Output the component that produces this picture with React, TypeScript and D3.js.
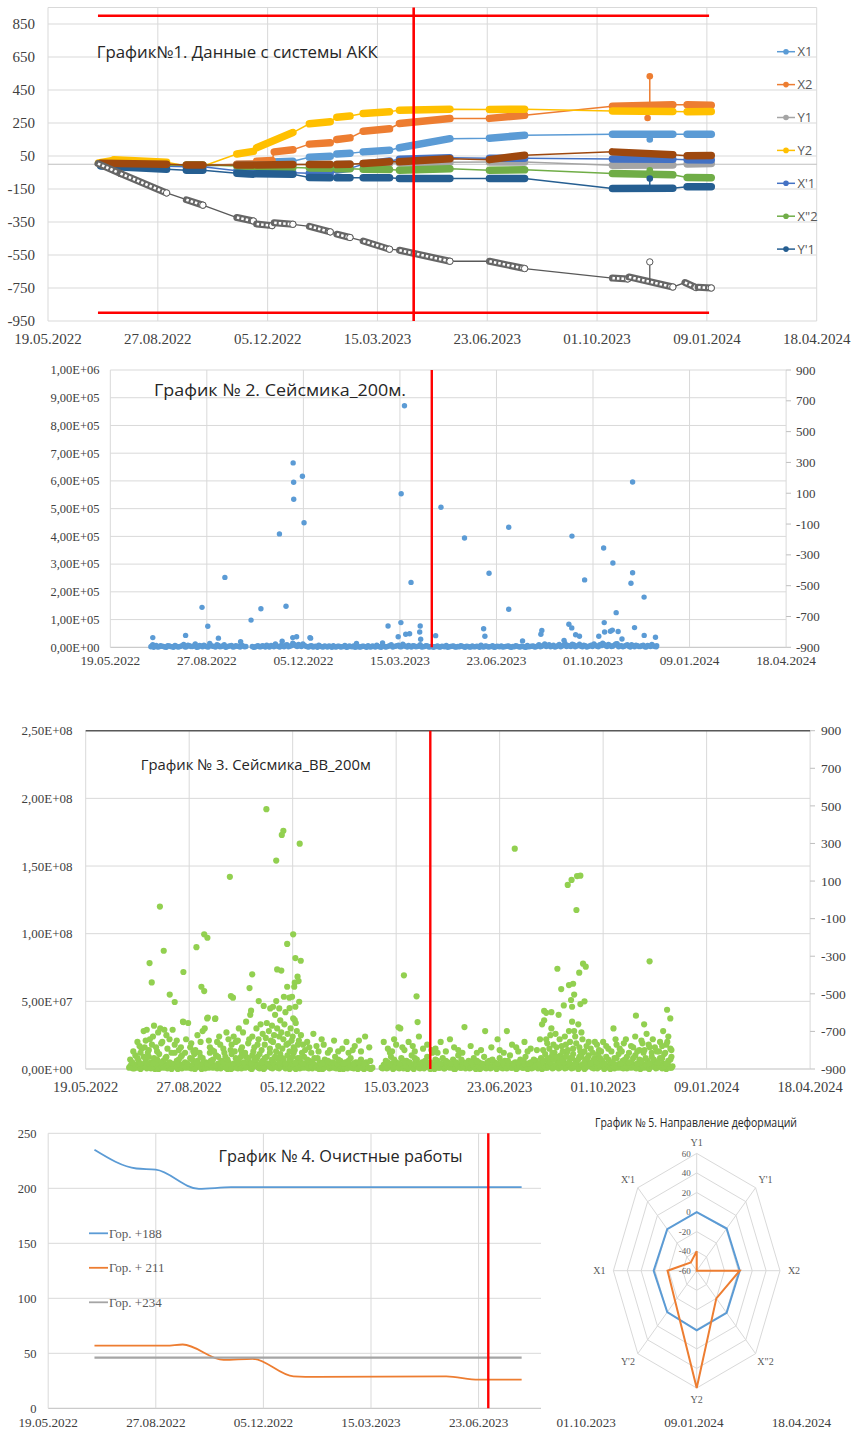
import React from 'react';
import * as d3 from 'd3';

const SERIF = "'Liberation Serif','Times New Roman',serif";
const SANS = "'Open Sans','Noto Sans',sans-serif";
const GRID = '#D9D9D9';
const AXIS = '#BFBFBF';
const TXT = '#404040';
const LEG = '#595959';
const RED = '#FF0000';

const BASE_DATE = new Date(2022, 4, 19);
const dayTicks = [0, 100, 200, 300, 400, 500, 600, 700];
const fmtDate = d3.timeFormat('%d.%m.%Y');
const dayLabel = (d: number) => fmtDate(d3.timeDay.offset(BASE_DATE, d));
const redDay = 333;
const redDay4 = 409;

// ---------- Chart 1 ----------
type Run = [number, number, number, number];
const c1GridVals = [-950, -750, -550, -350, -150, 50, 250, 450, 650, 850, 950];
const c1TickLabels = [850, 650, 450, 250, 50, -150, -350, -550, -750, -950];
const c1Limits = [900, -900];
const c1LimitSpan = [45.5, 602];

const x1Runs: Run[] = [[48,108,0,-8],[126,141,-10,-10],[172,187,-2,0],[190,223,10,18],[238,257,42,48],[263,275,62,66],[287,311,75,85],[320,366,100,155],[402,434,158,176],[514,569,182,182],[582,604,182,182]];
const x2Runs: Run[] = [[48,108,5,-2],[126,141,-8,-8],[172,187,0,2],[190,204,18,22],[206,223,75,88],[238,257,122,130],[263,275,150,160],[287,311,200,215],[320,366,247,277],[402,434,278,297],[514,569,352,360],[582,604,360,358]];
const y1Runs: Run[] = [[48,108,0,-4],[126,141,-8,-8],[172,187,-4,-4],[190,223,-4,-2],[238,257,-2,0],[263,275,0,2],[287,311,4,6],[320,366,8,12],[402,434,14,14],[514,569,-6,-4],[582,604,2,4]];
const y2Runs: Run[] = [[46,58,8,22],[60,108,28,12],[126,141,-10,-12],[172,187,62,78],[190,223,100,192],[238,257,245,258],[263,275,285,292],[287,311,308,318],[320,366,328,334],[402,434,332,334],[514,569,322,320],[582,604,318,320]];
const xp1Runs: Run[] = [[48,108,-2,-12],[126,141,-15,-15],[172,187,-40,-45],[190,223,-48,-52],[238,257,-55,-58],[263,275,-35,-25],[287,311,0,20],[320,366,30,40],[402,434,36,36],[514,569,32,30],[582,604,28,26]];
const xpp2Runs: Run[] = [[48,108,2,-4],[126,141,-4,-4],[172,187,-10,-12],[190,223,-14,-20],[238,257,-22,-25],[263,275,-28,-28],[287,311,-30,-32],[320,366,-36,-28],[402,434,-36,-34],[514,569,-56,-64],[582,604,-80,-82]];
const yp1Runs: Run[] = [[48,108,-10,-30],[126,141,-36,-36],[172,187,-55,-60],[190,223,-58,-60],[238,257,-80,-82],[263,275,-82,-82],[287,311,-82,-82],[320,366,-86,-87],[402,434,-87,-87],[514,569,-147,-145],[582,604,-137,-137]];
const brownRuns: Run[] = [[48,108,6,0],[126,141,-4,-4],[172,187,-4,-4],[190,223,-4,-2],[238,257,-2,-2],[263,275,-2,0],[287,311,5,15],[320,366,15,34],[402,434,28,55],[514,569,75,58],[582,604,52,53]];
const descRuns: Run[] = [[45.5,66,4,-56],[66,108,-56,-174],[126,141,-215,-248],[172,187,-323,-344],[190,204,-362,-372],[206,223,-355,-364],[238,257,-376,-410],[263,275,-424,-444],[287,311,-465,-515],[320,366,-521,-588],[402,434,-588,-632],[514,528,-690,-695],[529,569,-683,-744],[580,590,-717,-747],[592,604,-745,-750]];

const c1Series = [
  { name: 'X1', color: '#5B9BD5', runs: x1Runs, spikes: [[548, 150]] },
  { name: 'X2', color: '#ED7D31', runs: x2Runs, spikes: [[548, 533], [546, 280]] },
  { name: 'Y1', color: '#A5A5A5', runs: y1Runs, spikes: [] },
  { name: 'Y2', color: '#FFC000', runs: y2Runs, spikes: [] },
  { name: "X'1", color: '#4472C4', runs: xp1Runs, spikes: [] },
  { name: 'X"2', color: '#70AD47', runs: xpp2Runs, spikes: [[548, -36]] },
  { name: "Y'1", color: '#255E91', runs: yp1Runs, spikes: [[548, -87]] },
  { name: 'B', color: '#9E480E', runs: brownRuns, spikes: [] },
];

// ---------- Chart 2 ---------- (values in thousands)
const c2LeftTicks = [0, 100, 200, 300, 400, 500, 600, 700, 800, 900, 1000];
const secTicks = [900, 700, 500, 300, 100, -100, -300, -500, -700, -900];
const g2Peaks = [
  [304.7,871],[189.4,665],[189.9,595],[190,534],[199,617],[200.7,449],[175.2,409],[301.3,554],[342.5,505],[366.9,394],[412.7,433],[478.2,401],[511,358],[520.6,304],[541,596],[541,269],[539.3,231],[552.9,181],[491.3,243],[524,125],[311.5,234],[392.3,267],[412.7,137],[118.7,252],[95,144],[101,76],[156,139],[145.8,98],[182,148],[301,89],[287.7,77],[321,77],[320.5,55],[475,83],[511.6,89],[386.7,67],[447,61],[520,62],[543,71],[564.7,36],[553,43],[78,43],[44,35],[112,33],[337,42],[207.5,33],[189,35],[193,38],[206.8,35],[298.2,38],[306,47],[310,49],[321.5,29],[478,70],[482,45],[486,40],[506,40],[512,55],[518,58],[526,57],[530,30],[470,25],[446,47],[427,23],[388,40],[135,20],[178,22],[255,14],[282,16]
];
const g2Base = [
  [42,2],[44,9],[46,4],[49,1],[52,6],[55,3],[58,0],[61,5],[64,2],[67,7],[70,1],[73,4],[76,10],[79,2],[82,6],[85,3],[88,12],[91,1],[94,5],[97,8],[100,2],[103,14],[106,4],[109,1],[112,7],[115,3],[118,9],[121,2],[124,5],[127,1],[130,6],[133,3],[136,8],[139,2],
  [147,3],[150,1],[153,6],[156,2],[159,4],[162,8],[165,1],[168,5],[171,12],[174,3],[177,7],[180,2],[183,9],[186,4],[189,15],[192,6],[195,10],[198,3],[201,7],[204,2],[207,5],[210,1],[213,4],[216,8],[219,2],[222,5],[225,1],[228,3],[231,6],[234,1],[237,4],[240,2],[243,7],[246,1],[249,3],[252,5],[255,2],[258,1],[261,4],[264,2],[267,6],[270,1],[273,3],[276,8],[279,2],[282,5],[285,1],[288,4],[291,9],[294,3],[297,6],[300,2],[303,11],[306,4],[309,7],[312,1],[315,5],[318,3],[321,9],[324,2],[327,6],[330,1],[333,4],[336,2],[339,5],[342,1],[345,3],[348,7],[351,2],[354,4],[357,1],[360,3],[363,6],[366,2],[369,4],[372,1],[375,5],[378,2],[381,3],[384,8],[387,1],[390,4],[393,2],[396,6],[399,1],[402,3],[405,5],[408,2],[411,4],[414,1],[417,3],[420,6],[423,2],[426,4],[429,1],[432,7],[435,3],[438,5],[441,2],[444,9],[447,4],[450,12],[453,6],[456,2],[459,8],[462,3],[465,10],[468,5],[471,14],[474,7],[477,3],[480,9],[483,5],[486,11],[489,2],[492,6],[495,3],[498,8],[501,12],[504,4],[507,9],[510,15],[513,6],[516,10],[519,3],[522,8],[525,13],[528,5],[531,2],[534,7],[537,4],[540,9],[543,2],[546,6],[549,3],[552,8],[555,1],[558,5],[561,10],[564,3],[566,6]
];
const g2Base2 = [
  [43,5],[45,0],[47.5,7],[50.5,2],[53.5,4],[56.5,1],[59.5,6],[62.5,3],[65.5,0],[68.5,4],[71.5,2],[74.5,6],[77.5,1],[80.5,8],[83.5,3],[86.5,5],[89.5,0],[92.5,7],[95.5,2],[98.5,4],[101.5,1],[104.5,6],[107.5,3],[110.5,9],[113.5,2],[116.5,5],[119.5,0],[122.5,4],[125.5,7],[128.5,2],[131.5,4],[134.5,1],[137.5,5],[140.5,3],
  [148.5,0],[151.5,4],[154.5,2],[157.5,6],[160.5,1],[163.5,3],[166.5,7],[169.5,2],[172.5,5],[175.5,1],[178.5,4],[181.5,8],[184.5,2],[187.5,6],[190.5,10],[193.5,3],[196.5,5],[199.5,12],[202.5,4],[205.5,1],[208.5,6],[211.5,3],[214.5,0],[217.5,4],[220.5,1],[223.5,3],[226.5,5],[229.5,0],[232.5,2],[235.5,4],[238.5,1],[241.5,3],[244.5,0],[247.5,5],[250.5,2],[253.5,0],[256.5,3],[259.5,1],[262.5,4],[265.5,0],[268.5,2],[271.5,5],[274.5,1],[277.5,3],[280.5,0],[283.5,4],[286.5,2],[289.5,6],[292.5,1],[295.5,4],[298.5,8],[301.5,2],[304.5,5],[307.5,1],[310.5,3],[313.5,6],[316.5,2],[319.5,4],[322.5,1],[325.5,3],[328.5,5],[331.5,2],[334.5,0],[337.5,3],[340.5,1],[343.5,4],[346.5,2],[349.5,0],[352.5,3],[355.5,5],[358.5,1],[361.5,2],[364.5,4],[367.5,0],[370.5,3],[373.5,1],[376.5,2],[379.5,4],[382.5,0],[385.5,2],[388.5,5],[391.5,1],[394.5,3],[397.5,0],[400.5,4],[403.5,2],[406.5,1],[409.5,3],[412.5,5],[415.5,0],[418.5,2],[421.5,4],[424.5,1],[427.5,3],[430.5,0],[433.5,2],[436.5,4],[439.5,1],[442.5,5],[445.5,2],[448.5,7],[451.5,3],[454.5,9],[457.5,4],[460.5,1],[463.5,6],[466.5,2],[469.5,8],[472.5,3],[475.5,5],[478.5,11],[481.5,2],[484.5,6],[487.5,4],[490.5,8],[493.5,1],[496.5,5],[499.5,3],[502.5,7],[505.5,2],[508.5,6],[511.5,10],[514.5,3],[517.5,7],[520.5,4],[523.5,12],[526.5,2],[529.5,6],[532.5,4],[535.5,9],[538.5,1],[541.5,5],[544.5,8],[547.5,3],[550.5,6],[553.5,2],[556.5,7],[559.5,3],[562.5,5],[565.5,2]
];

// ---------- Chart 3 ---------- (values in millions)
const c3LeftTicks = [0, 50, 100, 150, 200, 250];
const g3Low = [
  [42,1],[44,3],[47,0.5],[49,2],[52,4],[54,1],[57,2.5],[59,0.5],[62,3.5],[64,1.5],[67,0],[69,3],[72,1],[74,4],[77,2],[79,0.5],[82,3],[84,1.5],[87,4],[89,0],[92,2],[94,3.5],[97,1],[99,2.5],[102,0.5],[104,4],[107,1.5],[109,3],[112,0],[114,2],[117,3.5],[119,1],[122,4],[124,2],[127,0.5],[129,3],[132,1.5],[134,4],[137,0],[139,2.5],[142,1],[144,3.5],[147,0.5],[149,2],[152,4],[154,1],[157,3],[159,0.5],[162,2.5],[164,4],[167,1],[169,3],[172,0],[174,2],[177,3.5],[179,1],[182,4],[184,2],[187,0.5],[189,3],[192,1.5],[194,4],[197,0],[199,2.5],[202,1],[204,3.5],[207,0.5],[209,2],[212,4],[214,1],[217,3],[219,0.5],[222,2.5],[224,1],[227,3.5],[229,0],[232,2],[234,4],[237,1],[239,2.5],[242,0.5],[244,3],[247,1.5],[249,0],[252,2],[254,3.5],[257,1],[259,0.5],[262,2.5],[264,1],[267,3],[269,0],[272,1.5],[274,0.5],[277,1],
  [286,1],[288,3],[291,0.5],[293,2],[296,4],[298,1],[301,2.5],[303,0.5],[306,3.5],[308,1.5],[311,0],[313,3],[316,1],[318,4],[321,2],[323,0.5],[326,3],[328,1.5],[331,4],[333,0],[336,2],[338,3.5],[341,1],[343,2.5],[346,0.5],[348,4],[351,1.5],[353,3],[356,0],[358,2],[361,3.5],[363,1],[366,4],[368,2],[371,0.5],[373,3],[376,1.5],[378,4],[381,0],[383,2.5],[386,1],[388,3.5],[391,0.5],[393,2],[396,4],[398,1],[401,3],[403,0.5],[406,2.5],[408,4],[411,1],[413,3],[416,0],[418,2],[421,3.5],[423,1],[426,4],[428,2],[431,0.5],[433,3],[436,1.5],[438,4],[441,0],[443,2.5],[446,1],[448,3.5],[451,0.5],[453,2],[456,4],[458,1],[461,3],[463,0.5],[466,2.5],[468,4],[471,1],[473,3],[476,0],[478,2],[481,3.5],[483,1],[486,4],[488,2],[491,0.5],[493,3],[496,1.5],[498,4],[501,0],[503,2.5],[506,1],[508,3.5],[511,0.5],[513,2],[516,4],[518,1],[521,3],[523,0.5],[526,2.5],[528,4],[531,1],[533,3],[536,0],[538,2],[541,3.5],[543,1],[546,4],[548,2],[551,0.5],[553,3],[556,1.5],[558,4],[561,0],[563,2.5],[566,1]
];
const g3Low2 = [
  [43,2],[45.5,0.5],[48,3],[50.5,1],[53,0],[55.5,2.5],[58,1.5],[60.5,4],[63,0.5],[65.5,2],[68,3.5],[70.5,0],[73,2],[75.5,1],[78,3.5],[80.5,2],[83,0],[85.5,3],[88,1.5],[90.5,3.5],[93,0.5],[95.5,2],[98,4],[100.5,1],[103,2.5],[105.5,0],[108,3],[110.5,1.5],[113,4],[115.5,0.5],[118,2],[120.5,3],[123,1],[125.5,2.5],[128,4],[130.5,0.5],[133,2],[135.5,1],[138,3.5],[140.5,0],[143,2],[145.5,1],[148,3.5],[150.5,0.5],[153,2.5],[155.5,1.5],[158,4],[160.5,0],[163,2],[165.5,3],[168,0.5],[170.5,2.5],[173,1],[175.5,4],[178,2],[180.5,0.5],[183,3],[185.5,1],[188,2],[190.5,4],[193,0.5],[195.5,2.5],[198,1],[200.5,3.5],[203,0],[205.5,2],[208,3],[210.5,1],[213,2.5],[215.5,0.5],[218,2],[220.5,3.5],[223,1],[225.5,0],[228,2.5],[230.5,1],[233,3],[235.5,0.5],[238,2],[240.5,1],[243,3.5],[245.5,0],[248,2],[250.5,1],[253,0.5],[255.5,2.5],[258,1],[260.5,3],[263,0],[265.5,1.5],[268,0.5],[270.5,2],[273,1],[275.5,0],
  [287,0.5],[289.5,2],[292,1],[294.5,3],[297,0],[299.5,2],[302,1],[304.5,3.5],[307,0.5],[309.5,2],[312,1],[314.5,3],[317,0],[319.5,2.5],[322,1],[324.5,4],[327,0.5],[329.5,2],[332,3],[334.5,1],[337,0],[339.5,2.5],[342,1],[344.5,3],[347,0.5],[349.5,2],[352,1],[354.5,3.5],[357,0],[359.5,2],[362,1],[364.5,3],[367,0.5],[369.5,2],[372,1],[374.5,2.5],[377,0],[379.5,2],[382,1],[384.5,3],[387,0.5],[389.5,2],[392,1],[394.5,3],[397,0],[399.5,2],[402,1],[404.5,3],[407,0.5],[409.5,2],[412,1],[414.5,3],[417,0.5],[419.5,2],[422,1],[424.5,3],[427,0],[429.5,2],[432,1],[434.5,3],[437,0.5],[439.5,2],[442,3.5],[444.5,1],[447,2.5],[449.5,4],[452,1],[454.5,3],[457,0.5],[459.5,2],[462,4],[464.5,1],[467,3],[469.5,0.5],[472,2.5],[474.5,4],[477,1],[479.5,3],[482,0],[484.5,2],[487,3.5],[489.5,1],[492,2.5],[494.5,0.5],[497,2],[499.5,3.5],[502,1],[504.5,2.5],[507,0],[509.5,2],[512,3.5],[514.5,1],[517,2.5],[519.5,0.5],[522,2],[524.5,4],[527,1],[529.5,3],[532,0.5],[534.5,2],[537,3.5],[539.5,1],[542,2.5],[544.5,0],[547,2],[549.5,3],[552,1],[554.5,2.5],[557,0.5],[559.5,2],[562,3.5],[564.5,1],[567,2]
];
const g3Mid = [
  [43,7],[48,10],[51,6],[56,9],[60,12],[63,5],[66,8],[71,11],[75,6],[78,9],[81,5],[86,12],[90,7],[93,10],[96,5],[101,8],[105,11],[108,6],[111,9],[116,5],[120,12],[123,7],[126,10],[131,6],[135,9],[138,5],[141,11],[145,8],[148,6],[151,12],[155,9],[158,5],[161,10],[165,7],[168,11],[171,6],[175,9],[178,12],[181,5],[185,8],[188,11],[191,7],[195,10],[198,6],[201,12],[205,8],[208,5],[211,9],[216,6],[221,8],[226,5],[231,7],[236,5],[241,9],[246,6],[251,5],[256,8],[261,5],[266,7],[271,5],[290,6],[295,9],[300,5],[305,8],[310,6],[315,10],[320,7],[325,5],[330,9],[335,12],[340,6],[345,8],[350,5],[355,7],[360,10],[365,5],[370,6],[375,8],[380,5],[385,9],[390,6],[395,5],[400,8],[405,6],[410,10],[415,5],[420,7],[425,9],[430,5],[435,6],[440,8],[444,11],[447,6],[450,9],[453,12],[456,7],[459,10],[462,5],[465,12],[468,8],[471,11],[474,6],[477,9],[480,12],[483,7],[486,10],[489,5],[492,8],[495,11],[499,6],[503,9],[507,5],[511,8],[515,11],[519,6],[523,9],[527,5],[531,10],[535,7],[539,12],[543,6],[547,9],[551,5],[555,8],[559,11],[563,6],[566,9]
];
const g3Mid2 = [
  [45,5],[50,8],[53,4],[58,6],[61,9],[65,4],[69,7],[73,5],[77,8],[83,4],[88,6],[92,9],[98,4],[103,7],[107,5],[113,8],[118,4],[121,6],[128,9],[133,5],[137,7],[143,4],[146,6],[150,9],[153,5],[157,8],[160,4],[163,7],[166,9],[170,5],[173,8],[176,4],[180,7],[183,9],[187,5],[190,8],[193,4],[197,7],[200,9],[203,5],[207,8],[210,4],[214,7],[219,5],[224,8],[229,4],[234,6],[239,5],[244,7],[249,4],[254,6],[259,4],[264,5],[269,4],[275,6],[292,5],[298,7],[303,4],[308,6],[313,5],[318,8],[323,4],[328,6],[333,5],[338,7],[343,4],[348,6],[353,4],[358,5],[363,7],[368,4],[373,5],[378,6],[383,4],[388,5],[393,7],[398,4],[403,5],[408,6],[413,4],[418,5],[423,6],[428,4],[433,7],[438,4],[442,6],[446,8],[449,5],[452,7],[455,9],[458,5],[461,7],[464,9],[467,5],[470,8],[473,4],[476,7],[479,9],[482,5],[485,8],[488,4],[491,7],[494,5],[497,8],[501,4],[505,7],[509,5],[513,8],[517,4],[521,7],[525,5],[529,8],[533,4],[537,6],[541,8],[545,4],[549,7],[553,5],[557,8],[561,4],[565,7]
];
const g3Upper = [
  [52,17],[54,15],[56,28],[58,21],[59,29],[61,14],[62,22],[64,18],[66,32],[68,16],[70,27],[72,30],[74,20],[76,29],[79,15],[81,22],[84,29],[86,18],[90,14],[94,35],[97,22],[99,34],[101,16],[104,13],[108,25],[111,20],[113,28],[115,30],[118,38],[120,16],[122,14],[125,37],[127,20],[130,18],[133,15],[136,27],[138,22],
  [141,18],[143,24],[145,20],[148,30],[150,14],[152,27],[155,35],[157,19],[159,40],[161,24],[163,16],[165,30],[167,22],[169,33],[171,26],[173,18],[175,34],[177,28],[179,21],[180,32],[182,25],[183,40],[185,30],[186,17],[188,36],[189,27],[191,22],[192,33],[193,42],[195,26],[196,19],[197,45],[198,30],[200,24],[201,16],[203,34],[204,28],[206,21],[208,25],[210,18],[212,14],
  [216,16],[220,26],[225,13],[230,18],[236,14],[240,21],[248,15],[254,12],[260,17],[266,13],[270,24],[274,16],
  [288,20],[292,15],[296,13],[300,18],[304,30],[308,14],[312,20],[316,17],[322,24],[326,15],[330,18],
  [338,15],[343,20],[348,13],[352,22],[360,14],[366,31],[372,17],[378,12],[386,28],[392,16],[400,14],[407,28],[412,18],[418,13],[424,20],[430,15],[436,14],
  [441,33],[443,36],[445,22],[448,15],[450,30],[452,18],[454,26],[457,40],[460,17],[463,24],[466,14],[468,20],[470,35],[472,28],[474,19],[476,33],[478,13],[480,22],[484,17],[488,15],[492,20],[496,14],
  [500,20],[505,15],[510,30],[513,18],[518,13],[522,22],[527,17],[531,24],[535,14],[538,19],[542,26],[545,16],[548,22],[552,13],[555,20],[558,28],[561,18],[563,24],[565,15]
];
const g3Upper2 = [
  [46,13],[50,20],[53,12],[57,16],[65,24],[69,13],[73,19],[78,25],[83,12],[88,21],[92,16],[96,12],[102,19],[106,14],[110,12],[119,21],[124,13],[129,24],[134,12],[140,14],[144,13],[147,21],[151,16],[154,12],[158,22],[162,13],[166,18],[170,14],[174,23],[178,15],[181,20],[184,13],[187,24],[190,15],[194,18],[197,13],[199,21],[202,14],[205,18],[209,12],[214,20],[218,12],[223,17],[228,22],[234,12],[244,13],[252,20],[258,14],[264,21],[294,12],[298,22],[306,16],[318,13],[334,14],[340,12],[356,16],[364,12],[382,14],[398,22],[404,12],[416,16],[427,13],[439,22],[442,14],[446,19],[449,25],[451,12],[455,16],[458,22],[461,13],[464,18],[467,28],[471,15],[473,24],[477,16],[479,27],[482,13],[486,20],[490,12],[494,18],[498,13],[503,17],[508,13],[512,22],[516,15],[520,19],[525,12],[529,16],[533,13],[537,21],[540,14],[544,18],[547,12],[550,16],[554,13],[557,17],[560,12],[562,20],[566,14]
];
const g3High = [
  [174.6,192],[191,176],[189.5,173],[206.8,166.5],[184.1,154],[139.3,142],[71.7,120],[114.5,99.5],[117.6,97],[200.5,99.5],[107,90],[75.4,87.4],[194.7,92.4],[61.7,78.3],[202.6,82],[207.8,80],[63.8,64],[81.2,55],[86,49.5],[94.4,71.7],[111.8,60.8],[114.5,57.6],[160.9,70],[158.3,59.8],[185,73.6],[189,72.7],[140.3,53.9],[142.3,52.7],[167.2,50.2],[414.6,162.8],[465.8,136],[469.5,139.7],[474.8,142.6],[478,142.9],[474.2,117.5],[307.5,69.2],[319.7,53.7],[544.9,79.6],[455.8,74.1],[480.6,77.8],[483.2,75.6],[476.9,71.2],[459.5,59.1],[471,63],[467,62],[472,55],[469,51],[462,47],[470,46],[478,48],[482,50],[443,42.9],[445,41.5],[450,42],[561.8,43.8],[564.9,37.4],[320.7,34.7],[302.3,30.8],[531.7,39.4],[539.6,33],[184.1,50.2],[172,46.6],[181,46],[187,44.8],[191.5,53.4],[196.8,52.7],[194.7,60.8],[199.4,53.4],[201.5,60.8],[202,63.8],[205.7,65],[204.7,68.2],[202.6,46],[206.3,49.7],[200.5,37.4],[202,36.2],[178.3,44.8],[159.8,43.1],[94.4,34.7],[117.4,37.4],[125.3,37.4]
];

// ---------- Chart 4 ----------
const c4Ticks = [0, 50, 100, 150, 200, 250];
const hor188 = [[43,235],[82,218],[100,217],[140,199.5],[170,201],[440,201]];
const hor211 = [[43,57],[110,57],[125,58],[163,44],[190,45],[228,29],[250,28.5],[370,29],[400,26],[440,26]];
const hor234 = [[43,46],[440,46]];
const c4Series = [
  { name: 'Гор. +188', color: '#5B9BD5', data: hor188 },
  { name: 'Гор. + 211', color: '#ED7D31', data: hor211 },
  { name: 'Гор. +234', color: '#A5A5A5', data: hor234 },
];

// ---------- Chart 5 ----------
const rAxes = ['Y1', "Y'1", 'X2', 'X"2', 'Y2', "Y'2", 'X1', "X'1"];
const rBlue = [0, 1, 2, 1, 1, 0, 2, 0];
const rOrange = [-40, -60, 2, -20, 60, -16, -18, -48];
const rTicks = [-60, -40, -20, 0, 20, 40, 60];

const sci = (v: number) => {
  if (v === 0) return '0,00E+00';
  const e = Math.floor(Math.log10(v) + 1e-9);
  const m = v / Math.pow(10, e);
  return m.toFixed(2).replace('.', ',') + 'E+' + String(e).padStart(2, '0');
};

function runValueAt(runs: Run[], day: number) {
  for (const r of runs) {
    if (day >= r[0] && day <= r[1]) return r[2] + ((r[3] - r[2]) * (day - r[0])) / Math.max(1e-6, r[1] - r[0]);
  }
  return runs[0][2];
}

export default function App() {
  const c1x = d3.scaleLinear().domain([0, 700]).range([48, 816.7]);
  const c1y = d3.scaleLinear().domain([-950, 950]).range([321, 7.5]);
  const runLine = (runs: Run[]) =>
    d3.line<number[]>().x((p) => c1x(p[0])).y((p) => c1y(p[1]))(runs.flatMap((r) => [[r[0], r[2]], [r[1], r[3]]])) || '';

  const c2x = d3.scaleLinear().domain([0, 700]).range([110.3, 786.1]);
  const c2y = d3.scaleLinear().domain([0, 1000]).range([647.3, 370]);
  const c2s = d3.scaleLinear().domain([-900, 900]).range([647.3, 370]);

  const c3x = d3.scaleLinear().domain([0, 700]).range([85.7, 810.1]);
  const c3y = d3.scaleLinear().domain([0, 250]).range([1069, 730.7]);
  const c3s = d3.scaleLinear().domain([-900, 900]).range([1069, 730.7]);

  const c4x = d3.scaleLinear().domain([0, 700]).range([48.2, 801.4]);
  const c4y = d3.scaleLinear().domain([0, 250]).range([1408.3, 1133.3]);
  const c4line = d3.line<number[]>().x((p) => c4x(p[0])).y((p) => c4y(p[1])).curve(d3.curveMonotoneX);

  const cx = 696.7, cy = 1270.7, rx = 83.3, ry = 117.3;
  const rs = d3.scaleLinear().domain([-60, 60]).range([0, 1]);
  const rpt = (i: number, v: number) => {
    const a = (i * Math.PI) / 4;
    return [cx + Math.sin(a) * rs(v) * rx, cy - Math.cos(a) * rs(v) * ry];
  };
  const closed = d3.line<number[]>().curve(d3.curveLinearClosed);

  const g2All = g2Base.concat(g2Base2, g2Peaks);
  const g3All = g3Low.concat(g3Low2, g3Mid, g3Mid2, g3Upper, g3Upper2, g3High);

  return (
    <svg width={856} height={1429} style={{ position: 'absolute', left: 0, top: 0 }} xmlns="http://www.w3.org/2000/svg">
      <rect x={0} y={0} width={856} height={1429} fill="#fff" />

      {/* ================= Chart 1 ================= */}
      <g>
        {c1GridVals.map((v) => (
          <line key={'h' + v} x1={48} x2={816.7} y1={c1y(v)} y2={c1y(v)} stroke={GRID} strokeWidth={1} />
        ))}
        {dayTicks.map((d) => (
          <line key={'v' + d} x1={c1x(d)} x2={c1x(d)} y1={c1y(950)} y2={c1y(-950)} stroke={GRID} strokeWidth={1} />
        ))}
        <line x1={48} x2={816.7} y1={c1y(0)} y2={c1y(0)} stroke={AXIS} strokeWidth={1.2} />
        {c1TickLabels.map((v) => (
          <text key={'yl' + v} x={35} y={c1y(v)} dy="0.35em" textAnchor="end" fontFamily={SERIF} fontSize={15} fill={TXT}>{v}</text>
        ))}
        {dayTicks.map((d) => (
          <text key={'xl' + d} x={c1x(d)} y={338.5} dy="0.35em" textAnchor="middle" fontFamily={SERIF} fontSize={15} fill={TXT}>{dayLabel(d)}</text>
        ))}
        <text x={96.7} y={52} dy="0.35em" fontFamily={SANS} fontSize={16.5} fill="#262626" textLength={281} lengthAdjust="spacingAndGlyphs">График№1. Данные с системы АКК</text>

        {c1Series.map((s) => (
          <g key={s.name}>
            <path d={runLine(s.runs)} fill="none" stroke={s.color} strokeWidth={1.5} />
            {s.runs.map((r, i) => (
              <line key={i} x1={c1x(r[0])} y1={c1y(r[2])} x2={c1x(r[1])} y2={c1y(r[3])} stroke={s.color} strokeWidth={7.5} strokeLinecap="round" />
            ))}
            {s.spikes.map((p, i) => (
              <g key={'sp' + i}>
                <line x1={c1x(p[0])} x2={c1x(p[0])} y1={c1y(runValueAt(s.runs, p[0]))} y2={c1y(p[1])} stroke={s.color} strokeWidth={1.5} />
                <circle cx={c1x(p[0])} cy={c1y(p[1])} r={3.3} fill={s.color} />
              </g>
            ))}
          </g>
        ))}
        <g>
          <path d={runLine(descRuns)} fill="none" stroke="#595959" strokeWidth={1.3} />
          {descRuns.map((r, i) => (
            <g key={i}>
              <line x1={c1x(r[0])} y1={c1y(r[2])} x2={c1x(r[1])} y2={c1y(r[3])} stroke="#666" strokeWidth={7} strokeLinecap="round" />
              <line x1={c1x(r[0])} y1={c1y(r[2])} x2={c1x(r[1])} y2={c1y(r[3])} stroke="#fff" strokeWidth={2.6} strokeDasharray="2.5 2" />
              <circle cx={c1x(r[1])} cy={c1y(r[3])} r={3.2} fill="#fff" stroke="#595959" strokeWidth={1} />
            </g>
          ))}
          <line x1={c1x(548)} x2={c1x(548)} y1={c1y(runValueAt(descRuns, 548))} y2={c1y(-592)} stroke="#595959" strokeWidth={1.3} />
          <circle cx={c1x(548)} cy={c1y(-592)} r={3.2} fill="#fff" stroke="#595959" strokeWidth={1} />
        </g>

        {c1Limits.map((v) => (
          <line key={'lim' + v} x1={c1x(c1LimitSpan[0])} x2={c1x(c1LimitSpan[1])} y1={c1y(v)} y2={c1y(v)} stroke={RED} strokeWidth={2.6} />
        ))}
        <line x1={c1x(redDay)} x2={c1x(redDay)} y1={c1y(950)} y2={c1y(-950)} stroke={RED} strokeWidth={2.6} />

        {c1Series.slice(0, 7).map((s, i) => {
          const y = 51.7 + i * 32.9;
          return (
            <g key={'lg' + s.name}>
              <line x1={777} x2={795} y1={y} y2={y} stroke={s.color} strokeWidth={1.5} />
              <circle cx={786} cy={y} r={2.8} fill={s.color} />
              <text x={797.5} y={y} dy="0.35em" fontFamily={SANS} fontSize={13} fill={LEG}>{s.name}</text>
            </g>
          );
        })}
      </g>

      {/* ================= Chart 2 ================= */}
      <g>
        {c2LeftTicks.map((v) => (
          <line key={'h' + v} x1={110.3} x2={786.1} y1={c2y(v)} y2={c2y(v)} stroke={v === 0 ? AXIS : GRID} strokeWidth={1} />
        ))}
        {dayTicks.map((d) => (
          <line key={'v' + d} x1={c2x(d)} x2={c2x(d)} y1={370} y2={647.3} stroke={GRID} strokeWidth={1} />
        ))}
        {c2LeftTicks.map((v) => (
          <text key={'l' + v} x={99.5} y={c2y(v)} dy="0.35em" textAnchor="end" fontFamily={SERIF} fontSize={12.5} fill={TXT}>{sci(v * 1000)}</text>
        ))}
        {secTicks.map((v) => (
          <g key={'r' + v}>
            <line x1={786.1} x2={791} y1={c2s(v)} y2={c2s(v)} stroke={AXIS} />
            <text x={796} y={c2s(v)} dy="0.35em" fontFamily={SERIF} fontSize={13} fill={TXT}>{v}</text>
          </g>
        ))}
        {dayTicks.map((d) => (
          <text key={'x' + d} x={c2x(d)} y={660} dy="0.35em" textAnchor="middle" fontFamily={SERIF} fontSize={13.3} fill={TXT}>{dayLabel(d)}</text>
        ))}
        <text x={154} y={390} dy="0.35em" fontFamily={SANS} fontSize={17} fill="#262626" textLength={252} lengthAdjust="spacingAndGlyphs">График № 2. Сейсмика_200м.</text>
        {g2All.map((p, i) => (
          <circle key={i} cx={c2x(p[0])} cy={c2y(p[1])} r={2.7} fill="#5B9BD5" />
        ))}
        <line x1={c2x(redDay)} x2={c2x(redDay)} y1={370} y2={647.3} stroke={RED} strokeWidth={2.4} />
      </g>

      {/* ================= Chart 3 ================= */}
      <g>
        {c3LeftTicks.map((v) => (
          <line key={'h' + v} x1={85.7} x2={810.1} y1={c3y(v)} y2={c3y(v)} stroke={v === 0 ? AXIS : GRID} strokeWidth={1} />
        ))}
        {dayTicks.map((d) => (
          <line key={'v' + d} x1={c3x(d)} x2={c3x(d)} y1={730.7} y2={1069} stroke={GRID} strokeWidth={1} />
        ))}
        <line x1={85.7} x2={810.1} y1={730.7} y2={730.7} stroke="#595959" strokeWidth={1.4} />
        {c3LeftTicks.map((v) => (
          <text key={'l' + v} x={72.6} y={c3y(v)} dy="0.35em" textAnchor="end" fontFamily={SERIF} fontSize={13} fill={TXT}>{sci(v * 1e6)}</text>
        ))}
        {secTicks.map((v) => (
          <g key={'r' + v}>
            <line x1={810.1} x2={815} y1={c3s(v)} y2={c3s(v)} stroke={AXIS} />
            <text x={821} y={c3s(v)} dy="0.35em" fontFamily={SERIF} fontSize={13.5} fill={TXT}>{v}</text>
          </g>
        ))}
        {dayTicks.map((d) => (
          <text key={'x' + d} x={c3x(d)} y={1086.7} dy="0.35em" textAnchor="middle" fontFamily={SERIF} fontSize={14.5} fill={TXT}>{dayLabel(d)}</text>
        ))}
        <text x={140.8} y={764.3} dy="0.35em" fontFamily={SANS} fontSize={15} fill="#262626" textLength={230} lengthAdjust="spacingAndGlyphs">График № 3. Сейсмика_ВВ_200м</text>
        {g3All.map((p, i) => (
          <circle key={i} cx={c3x(p[0])} cy={c3y(p[1])} r={3.1} fill="#92D050" />
        ))}
        <line x1={c3x(redDay)} x2={c3x(redDay)} y1={730.7} y2={1069} stroke={RED} strokeWidth={2.4} />
      </g>

      {/* ================= Chart 4 ================= */}
      <g>
        {c4Ticks.map((v) => (
          <line key={'h' + v} x1={48.2} x2={801.4} y1={c4y(v)} y2={c4y(v)} stroke={v === 0 ? AXIS : GRID} strokeWidth={1} />
        ))}
        {dayTicks.map((d) => (
          <line key={'v' + d} x1={c4x(d)} x2={c4x(d)} y1={1133.3} y2={1408.3} stroke={GRID} strokeWidth={1} />
        ))}
        {c4Ticks.map((v) => (
          <text key={'l' + v} x={36.5} y={c4y(v)} dy="0.35em" textAnchor="end" fontFamily={SERIF} fontSize={12.5} fill={TXT}>{v}</text>
        ))}
        {dayTicks.map((d) => (
          <text key={'x' + d} x={c4x(d)} y={1422.7} dy="0.35em" textAnchor="middle" fontFamily={SERIF} fontSize={13.2} fill={TXT}>{dayLabel(d)}</text>
        ))}
        {c4Series.map((s) => (
          <path key={s.name} d={c4line(s.data) || ''} fill="none" stroke={s.color} strokeWidth={s.color === '#A5A5A5' ? 2.2 : 1.8} />
        ))}
        <line x1={c4x(redDay4)} x2={c4x(redDay4)} y1={1133.3} y2={1408.3} stroke={RED} strokeWidth={2.4} />
        <text x={218.6} y={1156} dy="0.35em" fontFamily={SANS} fontSize={17} fill="#262626" textLength={244} lengthAdjust="spacingAndGlyphs">График № 4. Очистные работы</text>
        {c4Series.map((s, i) => {
          const y = 1233.3 + i * 34.5;
          return (
            <g key={'lg' + s.name}>
              <line x1={89} x2={108} y1={y} y2={y} stroke={s.color} strokeWidth={1.8} />
              <text x={109} y={y} dy="0.35em" fontFamily={SERIF} fontSize={13} fill={LEG}>{s.name}</text>
            </g>
          );
        })}
      </g>

      {/* ================= Chart 5 (radar) ================= */}
      <g>
        <rect x={541} y={1100} width={315} height={310} fill="#fff" />
        <text x={696} y={1122.7} dy="0.35em" textAnchor="middle" fontFamily={SANS} fontSize={12} fill="#262626" textLength={202} lengthAdjust="spacingAndGlyphs">График № 5. Направление деформаций</text>
        {rTicks.slice(1).map((t) => (
          <path key={'ring' + t} d={closed(rAxes.map((_, i) => rpt(i, t))) || ''} fill="none" stroke={GRID} strokeWidth={1} />
        ))}
        {rAxes.map((a, i) => {
          const p = rpt(i, 60);
          return <line key={'sp' + a} x1={cx} y1={cy} x2={p[0]} y2={p[1]} stroke={GRID} strokeWidth={1} />;
        })}
        {rTicks.map((t) => (
          <text key={'rt' + t} x={cx - 6} y={cy - rs(t) * ry} dy="0.35em" textAnchor="end" fontFamily={SERIF} fontSize={9} fill={LEG}>{t}</text>
        ))}
        {rAxes.map((a, i) => {
          const ang = (i * Math.PI) / 4;
          const lx = cx + Math.sin(ang) * (rx + 14);
          const ly = cy - Math.cos(ang) * (ry + 11);
          return (
            <text key={'ax' + a} x={lx} y={ly} dy="0.35em" textAnchor="middle" fontFamily={SERIF} fontSize={10} fill={LEG}>{a}</text>
          );
        })}
        <path d={closed(rBlue.map((v, i) => rpt(i, v))) || ''} fill="none" stroke="#5B9BD5" strokeWidth={2} />
        <path d={closed(rOrange.map((v, i) => rpt(i, v))) || ''} fill="none" stroke="#ED7D31" strokeWidth={2} />
      </g>
    </svg>
  );
}
